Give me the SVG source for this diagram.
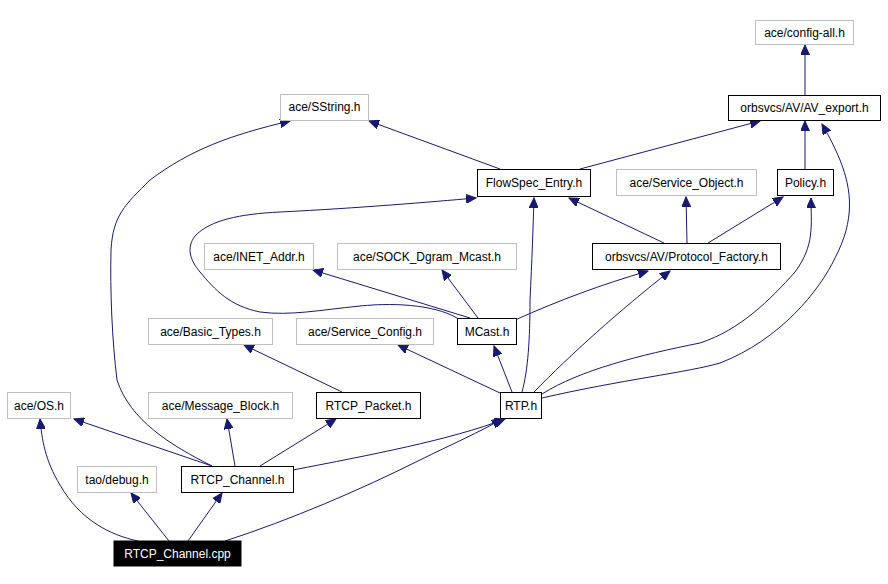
<svg xmlns="http://www.w3.org/2000/svg" width="888" height="584" viewBox="0 0 888 584">
<style>
text{font-family:"Liberation Sans",Arial,sans-serif;font-size:12px;text-anchor:middle;fill:#000}
.g rect{fill:#fff;stroke:#bfbfbf;stroke-width:1}
.b rect{fill:#fff;stroke:#000;stroke-width:1}
.k rect{fill:#000;stroke:#000}
.k text{fill:#fff}
#edges path{fill:none;stroke:#191970;stroke-width:1;marker-end:url(#ah)}
</style>
<defs><marker id="ah" markerWidth="11" markerHeight="9" refX="10" refY="4.5" orient="auto" markerUnits="userSpaceOnUse"><path d="M0,0 L10,4.5 L0,9 Z" fill="#191970" stroke="#191970"/></marker></defs>
<rect width="888" height="584" fill="#fff"/>
<g id="edges">
<path d="M805,95 L805,45"/>
<path d="M500,169 L369,121"/>
<path d="M580,169 L760,121"/>
<path d="M805,169 L805,121"/>
<path d="M542,398 C620,380 690,372 720,363 C780,340 820,290 835,258 C855,220 852,190 840,160 C835,148 830,138 822,124"/>
<path d="M542,394 C580,370 640,355 700,343 C740,330 770,300 795,272 C815,245 811,225 811,198"/>
<path d="M664,243 L569,198"/>
<path d="M687,243 L686,197"/>
<path d="M708,243 L783,197"/>
<path d="M515,320 C560,300 600,285 648,271"/>
<path d="M534,392 C570,355 620,310 670,271"/>
<path d="M522,392 C528,370 530,340 530,300 C532,260 533,230 534,198"/>
<path d="M460,320 C440,306 400,302 360,306 C320,310 290,316 260,312 C230,306 215,290 200,272 C190,260 186,248 195,236 C210,220 240,214 280,212 C360,208 430,202 476,198"/>
<path d="M470,318 L313,270"/>
<path d="M478,318 L442,270"/>
<path d="M512,392 L494,346"/>
<path d="M500,393 L398,345"/>
<path d="M342,392 L244,345"/>
<path d="M212,466 L74,419"/>
<path d="M235,466 L227,419"/>
<path d="M260,466 L336,419"/>
<path d="M293,470 C370,455 450,440 505,419"/>
<path d="M212,466 C170,445 130,420 117,380 C112,340 110,290 111,250 C113,215 125,205 150,180 C190,150 230,135 290,121"/>
<path d="M138,541 C110,535 80,520 60,485 C45,460 42,440 40,419"/>
<path d="M169,541 L131,493"/>
<path d="M188,541 L222,493"/>
<path d="M225,541 C290,520 360,490 420,460 C450,445 480,432 502,419"/>
</g>
<g id="config_all" class="g"><rect x="755.5" y="20.5" width="98" height="24"/><text x="804.5" y="37">ace/config-all.h</text></g>
<g id="av_export" class="b"><rect x="728.5" y="95.5" width="152" height="25"/><text x="804.5" y="112">orbsvcs/AV/AV_export.h</text></g>
<g id="sstring" class="g"><rect x="280.5" y="94.5" width="88" height="26"/><text x="324.5" y="111">ace/SString.h</text></g>
<g id="flowspec" class="b"><rect x="477.5" y="169.5" width="113" height="27"/><text x="534" y="187">FlowSpec_Entry.h</text></g>
<g id="service_object" class="g"><rect x="616.5" y="169.5" width="140" height="26"/><text x="686.5" y="187">ace/Service_Object.h</text></g>
<g id="policy" class="b"><rect x="777.5" y="169.5" width="56" height="26"/><text x="805.5" y="187">Policy.h</text></g>
<g id="inet_addr" class="g"><rect x="204.5" y="243.5" width="109" height="26"/><text x="259" y="261">ace/INET_Addr.h</text></g>
<g id="sock_dgram" class="g"><rect x="337.5" y="243.5" width="179" height="26"/><text x="427" y="261">ace/SOCK_Dgram_Mcast.h</text></g>
<g id="protocol_factory" class="b"><rect x="592.5" y="243.5" width="188" height="26"/><text x="686.5" y="261">orbsvcs/AV/Protocol_Factory.h</text></g>
<g id="basic_types" class="g"><rect x="148.5" y="318.5" width="124" height="26"/><text x="210.5" y="336">ace/Basic_Types.h</text></g>
<g id="service_config" class="g"><rect x="296.5" y="318.5" width="137" height="26"/><text x="365" y="336">ace/Service_Config.h</text></g>
<g id="mcast" class="b"><rect x="457.5" y="318.5" width="59" height="26"/><text x="487" y="336">MCast.h</text></g>
<g id="os" class="g"><rect x="7.5" y="392.5" width="63" height="26"/><text x="39" y="410">ace/OS.h</text></g>
<g id="message_block" class="g"><rect x="148.5" y="392.5" width="144" height="26"/><text x="220.5" y="410">ace/Message_Block.h</text></g>
<g id="rtcp_packet" class="b"><rect x="316.5" y="392.5" width="104" height="26"/><text x="368.5" y="410">RTCP_Packet.h</text></g>
<g id="rtp" class="b"><rect x="500.5" y="392.5" width="41" height="26"/><text x="521" y="410">RTP.h</text></g>
<g id="debug" class="g"><rect x="77.5" y="466.5" width="79" height="26"/><text x="117" y="484">tao/debug.h</text></g>
<g id="rtcp_channel_h" class="b"><rect x="181.5" y="466.5" width="112" height="26"/><text x="237.5" y="484">RTCP_Channel.h</text></g>
<g id="rtcp_channel_cpp" class="k"><rect x="114" y="541" width="127" height="25"/><text x="177.5" y="558">RTCP_Channel.cpp</text></g>
</svg>
